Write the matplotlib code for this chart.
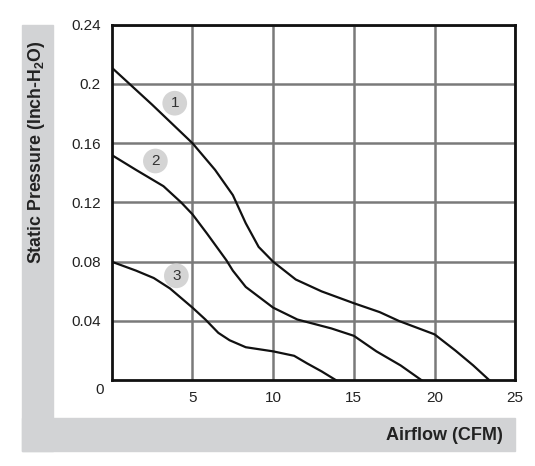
import matplotlib
matplotlib.use('Agg')
import matplotlib.pyplot as plt
from matplotlib.patches import Rectangle

plt.rcParams['font.family'] = ['Liberation Sans', 'DejaVu Sans']
plt.rcParams['mathtext.fontset'] = 'custom'
plt.rcParams['mathtext.bf'] = 'Liberation Sans:bold'
plt.rcParams['mathtext.rm'] = 'Liberation Sans:bold'

grey = '#d2d3d5'
gridc = '#7a7a7a'

# curve 1
x1 = [0, 2.5, 5, 6.4, 7.5, 8.3, 9.1, 10, 11.4, 13, 15, 16.6, 17.8, 20, 21.3, 22.4, 23.4]
y1 = [0.211, 0.186, 0.160, 0.142, 0.125, 0.106, 0.090, 0.080, 0.068, 0.060, 0.052, 0.046, 0.040, 0.031, 0.020, 0.010, 0.0]
# curve 2
x2 = [0, 1.5, 3.2, 4.3, 5, 5.9, 7.1, 7.5, 8.3, 10, 11.5, 13.6, 15, 16.4, 17.9, 19.2]
y2 = [0.152, 0.142, 0.131, 0.120, 0.112, 0.099, 0.081, 0.074, 0.063, 0.049, 0.041, 0.035, 0.030, 0.0195, 0.010, 0.0]
# curve 3
x3 = [0, 1.5, 2.6, 3.6, 5, 5.8, 6.6, 7.3, 8.3, 10, 11.3, 12.1, 13.0, 13.9]
y3 = [0.080, 0.074, 0.069, 0.062, 0.049, 0.041, 0.032, 0.027, 0.0223, 0.0195, 0.0165, 0.0114, 0.006, 0.0]

curve_labels = ['1', '2', '3']
label_x = [3.9, 2.7, 4.0]
label_y = [0.187, 0.148, 0.0705]

xticks = [5, 10, 15, 20, 25]
yticks = [0.04, 0.08, 0.12, 0.16, 0.2, 0.24]
ytick_labels = ['0.04', '0.08', '0.12', '0.16', '0.2', '0.24']

fig = plt.figure(figsize=(5.35, 4.66), dpi=100)
fig.patches.append(Rectangle((0.0411, 0.0322), 0.058, 0.914, transform=fig.transFigure,
                             color=grey, zorder=0))
fig.patches.append(Rectangle((0.0411, 0.0322), 0.9215, 0.0708, transform=fig.transFigure,
                             color=grey, zorder=0))

ax = fig.add_axes([0.209, 0.184, 0.754, 0.763])
ax.set_xlim(0, 25)
ax.set_ylim(0, 0.24)
ax.set_xticks(xticks)
ax.set_yticks(yticks)
ax.set_yticklabels(ytick_labels)
ax.tick_params(length=0, labelsize=11, colors='#222222')
ax.tick_params(axis='x', pad=8)
ax.tick_params(axis='y', pad=8)
ax.grid(True, color=gridc, linewidth=1.8)
ax.set_axisbelow(True)
for s in ax.spines.values():
    s.set_linewidth(2)
    s.set_color('#111111')

for xs, ys in [(x1, y1), (x2, y2), (x3, y3)]:
    ax.plot(xs, ys, color='#111111', linewidth=1.6, solid_joinstyle='round', zorder=3)

for t, lx, ly in zip(curve_labels, label_x, label_y):
    ax.text(lx, ly, t, ha='center', va='center', fontsize=11, color='#333333', zorder=4,
            bbox=dict(boxstyle='circle,pad=0.35', fc='#d4d4d4', ec='none'))

fig.text(100 / 535, 1 - 390 / 466, '0', ha='center', va='center', fontsize=11, color='#222222')
fig.text(0.069, 0.674, r'Static Pressure (Inch-H$_{\mathbf{2}}$O)', rotation=90,
         ha='center', va='center', fontsize=12.8, fontweight='bold', color='#222222')
fig.text(503 / 535, 1 - 435 / 466, 'Airflow (CFM)', ha='right', va='center',
         fontsize=13, fontweight='bold', color='#222222')

fig.savefig('out.png', dpi=100)
